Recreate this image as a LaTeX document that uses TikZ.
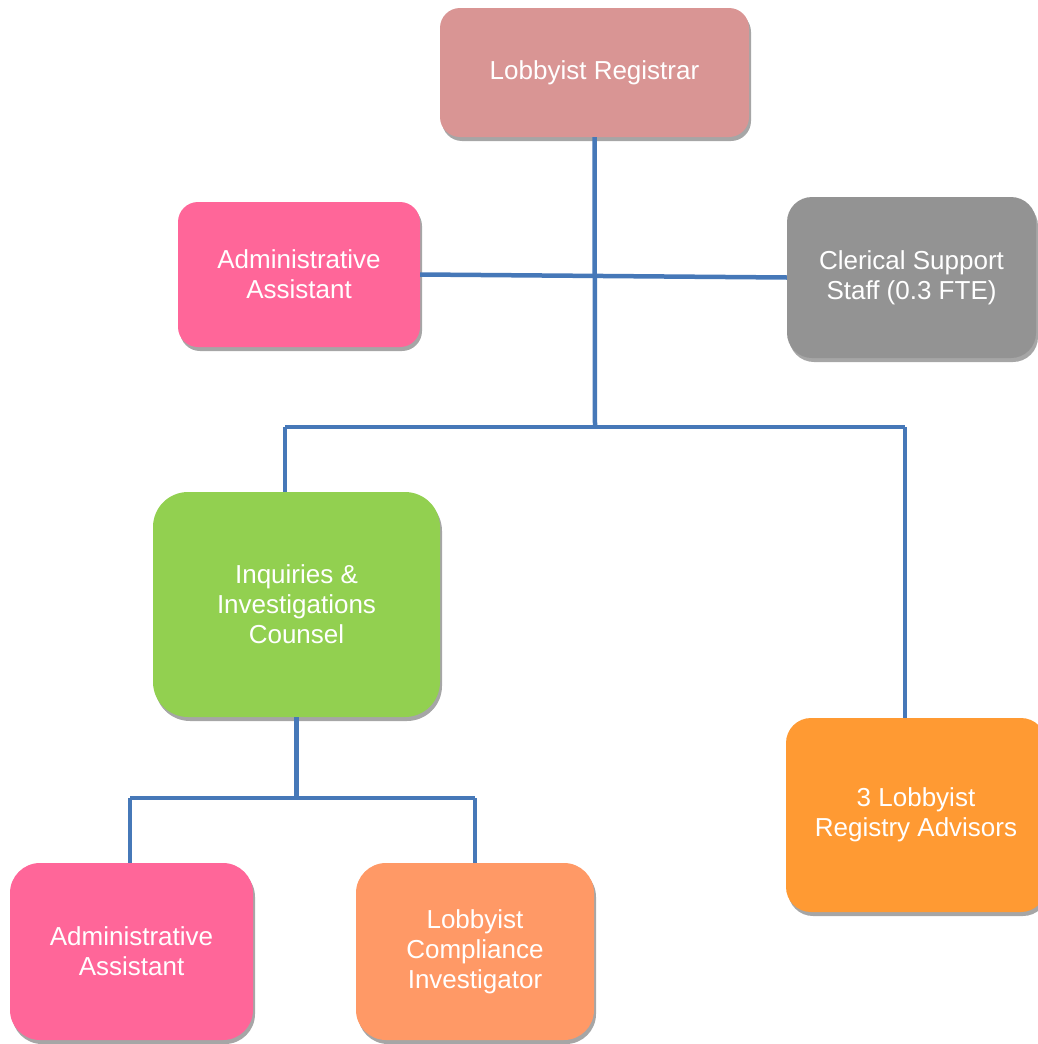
\documentclass[tikz,border=0pt]{standalone}
\usepackage{fontspec}
\setmainfont{Liberation Sans}
\usetikzlibrary{shadows}
\definecolor{cReg}{HTML}{D99594}
\definecolor{cPink}{HTML}{FF6699}
\definecolor{cGray}{HTML}{939393}
\definecolor{cGreen}{HTML}{92D050}
\definecolor{cOrange}{HTML}{FF9A33}
\definecolor{cSalmon}{HTML}{FF9966}
\definecolor{cLine}{HTML}{4678B8}
\definecolor{cShadow}{HTML}{A6A6A6}
\tikzset{
  box/.style={rectangle, inner sep=0pt, align=center, text=white,
    font=\fontsize{26}{30}\selectfont,
    drop shadow={shadow xshift=2pt, shadow yshift=-4pt, fill=cShadow, opacity=1}},
  link/.style={draw=cLine, line width=4.5pt},
}
\begin{document}
\begin{tikzpicture}[x=1pt,y=-1pt]
\useasboundingbox (0,0) rectangle (1038,1044);
% nodes
\node[box, fill=cReg, rounded corners=20pt, minimum width=309pt, minimum height=129pt] (reg) at (594.5,72.5) {Lobbyist Registrar};
\node[box, fill=cPink, rounded corners=20pt, minimum width=242pt, minimum height=145pt] (adm1) at (299,274.5) {Administrative\\Assistant};
\node[box, fill=cGray, rounded corners=25pt, minimum width=249pt, minimum height=161pt] (cler) at (911.5,277.5) {Clerical Support\\Staff (0.3 FTE)};
\node[box, fill=cGreen, rounded corners=35pt, minimum width=287pt, minimum height=225pt] (inq) at (296.5,604.5) {Inquiries \&\\Investigations\\Counsel};
\node[box, fill=cOrange, rounded corners=25pt, minimum width=260pt, minimum height=194pt] (adv) at (916,815) {3 Lobbyist\\Registry Advisors};
\node[box, fill=cPink, rounded corners=30pt, minimum width=243pt, minimum height=177pt] (adm2) at (131.5,951.5) {Administrative\\Assistant};
\node[box, fill=cSalmon, rounded corners=30pt, minimum width=238pt, minimum height=177pt] (comp) at (475,951.5) {Lobbyist\\Compliance\\Investigator};
% junction coordinates
\coordinate (bus) at (595,427);
\coordinate (busL) at (285,427);
\coordinate (busR) at (905,427);
\coordinate (bus2) at (296.5,798);
\coordinate (bus2L) at (130,798);
\coordinate (bus2R) at (475,798);
% connectors
\begin{scope}[on background layer/.style={}]
\draw[link] (adm1.east) -- (cler.west);
\draw[link] (reg.south) -- (bus);
\draw[link] (busL) -- (busR);
\draw[link] (busL) -- (busL |- inq.north);
\draw[link] (busR) -- (busR |- adv.north);
\draw[link] (inq.south) -- (bus2);
\draw[link] (bus2L) -- (bus2R);
\draw[link] (bus2L) -- (bus2L |- adm2.north);
\draw[link] (bus2R) -- (bus2R |- comp.north);
\end{scope}
\end{tikzpicture}
\end{document}
